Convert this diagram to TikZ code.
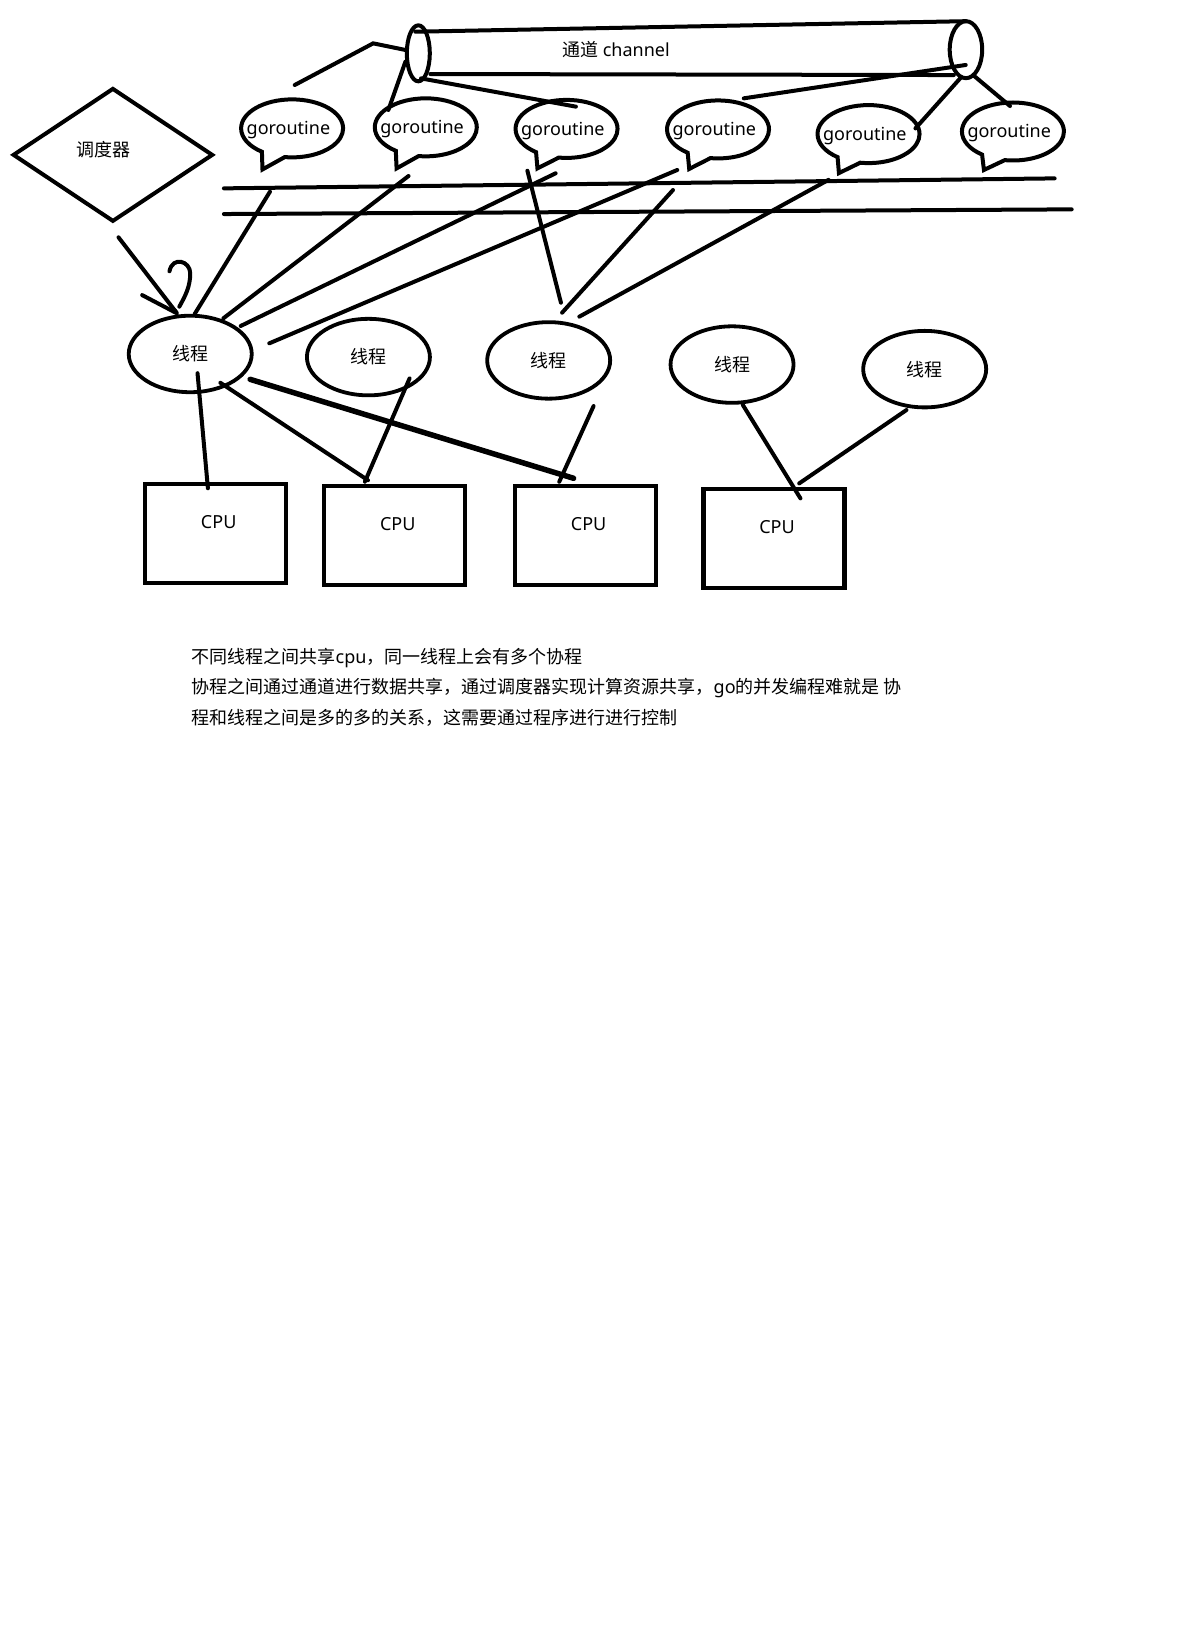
\documentclass[tikz,border=0pt]{standalone}
\usepackage{fontspec}
\setmainfont{Noto Sans CJK SC}
\newfontfamily\latinfont{Noto Sans}
\usetikzlibrary{shapes.geometric, shapes.callouts, arrows.meta, calc}

\begin{document}
\begin{tikzpicture}[
  x=1.0395pt, y=-1.0395pt,
  line width=4pt, line cap=round,
  every node/.style={inner sep=0pt, outer sep=0pt},
  hanzi/.style={font=\fontsize{18pt}{22pt}\selectfont},
  latin/.style={font=\latinfont\fontsize{18pt}{22pt}\selectfont},
  bubble/.style={ellipse callout, draw, line width=4pt, minimum width=102pt, minimum height=58pt,
    callout absolute pointer={#1}, callout pointer arc=28,
    label={[latin, xshift=-3.7pt, yshift=-2pt]center:goroutine}},
  thread/.style={ellipse, draw, line width=3.8pt, minimum width=123pt, minimum height=76.5pt, hanzi},
  cpu/.style={rectangle, draw, line width=4.2pt, minimum width=141pt, minimum height=99pt,
    label={[latin, xshift=3pt, yshift=11.4pt]center:CPU}},
  pipeend/.style={ellipse, draw, line width=4pt},
  heavy/.style={line width=5.5pt}
  ]
  \path[use as bounding box, fill=white] (0,0) rectangle (1138,1568);

  \node[diamond, draw, minimum width=198.6pt, minimum height=132pt,
    label={[hanzi, xshift=-9.7pt, yshift=5.7pt]center:调度器}] (dia) at (108.6,149) {};

  \node[pipeend, minimum width=23pt, minimum height=56pt] (chL) at (402.4,51.3) {};
  \node[pipeend, minimum width=32.5pt, minimum height=57pt] (chR) at (929.2,47.8) {};
  \node[hanzi] (chName) at (592.8,48) {通道 {\latinfont channel}};
  \draw ($(chL)+(-2.9,-20.8)$) -- (chR.north);
  \draw ($(chL)+(11.6,19.9)$) -- ($(chR)+(-11.7,24.4)$);
  \coordinate (chHook) at (283.5,81.8);
  \coordinate (chBend) at (359,41.7);
  \draw (chHook) -- (chBend) -- (chL.165);

  \node[bubble={(252.5,163)}] (g1) at (281,123.5) {};
  \node[bubble={(381.5,162)}] (g2) at (409.6,122.5) {};
  \node[bubble={(517,162)}] (g3) at (545,124) {};
  \node[bubble={(663,162.5)}] (g4) at (690.7,124.5) {};
  \node[bubble={(807,166.5)}] (g5) at (835.5,129) {};
  \node[bubble={(946.5,163.5)}] (g6) at (974.4,126.5) {};

  \draw ($(chL)+(-12.4,8)$) -- ($(g2)+(-36,-16.7)$);
  \draw ($(chL)+(2.6,24.1)$) -- ($(g3)+(9,-21.4)$);
  \draw ($(chR)+(-0.2,14.7)$) -- ($(g4)+(24.8,-29.9)$);
  \draw ($(chR)+(-4.7,26.6)$) -- ($(g5)+(45.1,-5.5)$);
  \draw ($(chR)+(7.8,25.2)$) -- ($(g6)+(-2.8,-24.5)$);

  \coordinate (busAw) at (215.4,181.2);
  \coordinate (busAe) at (1014.5,171.6);
  \coordinate (busBw) at (215.4,205.9);
  \coordinate (busBe) at (1030.9,201.4);
  \draw (busAw) -- (busAe);
  \draw (busBw) -- (busBe);

  \node[thread] (T1) at (183,340.5) {线程};
  \node[thread] (T2) at (354.4,343.5) {线程};
  \node[thread] (T3) at (527.8,346.7) {线程};
  \node[thread] (T4) at (704.2,350.7) {线程};
  \node[thread] (T5) at (889.5,355.1) {线程};

  \node[cpu] (C1) at (207.5,513) {};
  \node[cpu] (C2) at (379.7,515) {};
  \node[cpu] (C3) at (563.4,515) {};
  \node[cpu] (C4) at (744.6,518) {};

  \draw[-{Straight Barb[harpoon, swap, round, length=35.8pt, width=33pt]}]
    ($(dia)+(5.4,79.3)$) -- ($(T1)+(-11.5,-37.5)$);
  \draw (172.5,295) .. controls (178,285) and (183,276) .. (183,263)
    .. controls (183,251) and (166,246) .. (163,261);

  \draw ($(g1)+(-21.3,60.9)$) -- ($(T1)+(4.3,-38.5)$);
  \draw ($(g2)+(-16.6,46.8)$) -- ($(T1)+(31.9,-34.3)$);
  \draw ($(g3)+(-10.5,42.7)$) -- ($(T1)+(48.5,-26.9)$);
  \draw ($(g4)+(-39.2,39)$) -- ($(T1)+(76,-10.2)$);
  \draw ($(g3)+(-37.7,40.2)$) -- ($(T3)+(11.8,-55.5)$);
  \draw ($(g4)+(-43.3,58.3)$) -- ($(T3)+(12.9,-45.9)$);
  \draw ($(g5)+(-38.5,44)$) -- ($(T3)+(29.5,-42.1)$);

  \draw ($(T1)+(7,18.5)$) -- ($(C1)+(-7.5,-43.3)$);
  \draw ($(T1)+(29,27.7)$) -- ($(C2)+(-25.7,-53)$);
  \draw[heavy] ($(T1)+(57.6,24.4)$) -- ($(C3)+(-11.6,-54.9)$);
  \draw ($(T2)+(39.6,20.5)$) -- ($(C2)+(-28.7,-51.6)$);
  \draw ($(T3)+(43.2,43.9)$) -- ($(C3)+(-25.4,-51.6)$);
  \draw ($(T4)+(10.4,38.9)$) -- ($(C4)+(25.4,-38.6)$);
  \draw ($(T5)+(-17.5,39.3)$) -- ($(C4)+(24.2,-53)$);

  \node[hanzi, anchor=base west] (note1) at (184.4,637.8)
    {不同线程之间共享{\latinfont cpu}，同一线程上会有多个协程};
  \node[hanzi, anchor=base west] (note2) at (184.4,667.3)
    {协程之间通过通道进行数据共享，通过调度器实现计算资源共享，{\latinfont go}的并发编程难就是 协};
  \node[hanzi, anchor=base west] (note3) at (184.4,696.8)
    {程和线程之间是多的多的关系，这需要通过程序进行进行控制};
\end{tikzpicture}
\end{document}
